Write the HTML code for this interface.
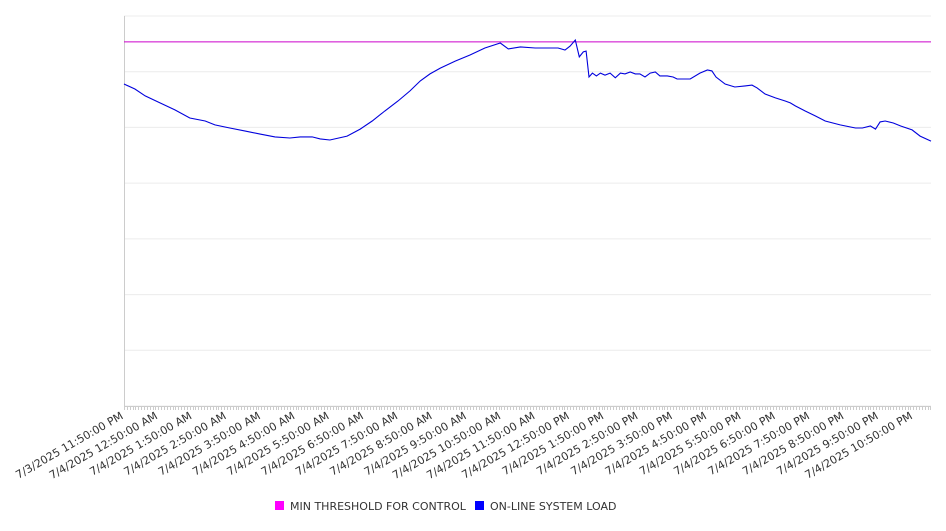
<!DOCTYPE html>
<html><head><meta charset="utf-8"><style>
body{margin:0;background:#fff;font-family:"Liberation Sans","DejaVu Sans",sans-serif}
</style></head><body>
<svg id="chart" width="946" height="526" xmlns="http://www.w3.org/2000/svg" font-family="DejaVu Sans, Liberation Sans, sans-serif"></svg>
<script>
const tickLabels = ["7/3/2025 11:50:00 PM","7/4/2025 12:50:00 AM","7/4/2025 1:50:00 AM","7/4/2025 2:50:00 AM","7/4/2025 3:50:00 AM","7/4/2025 4:50:00 AM","7/4/2025 5:50:00 AM","7/4/2025 6:50:00 AM","7/4/2025 7:50:00 AM","7/4/2025 8:50:00 AM","7/4/2025 9:50:00 AM","7/4/2025 10:50:00 AM","7/4/2025 11:50:00 AM","7/4/2025 12:50:00 PM","7/4/2025 1:50:00 PM","7/4/2025 2:50:00 PM","7/4/2025 3:50:00 PM","7/4/2025 4:50:00 PM","7/4/2025 5:50:00 PM","7/4/2025 6:50:00 PM","7/4/2025 7:50:00 PM","7/4/2025 8:50:00 PM","7/4/2025 9:50:00 PM","7/4/2025 10:50:00 PM"];
const loadMinutes = [0,19,37,63,89,115,142,159,185,212,238,264,290,308,329,343,360,390,413,434,456,479,500,518,535,553,579,605,631,658,672,693,719,742,759,771,780,789,796,803,808,813,819,826,833,841,850,859,868,876,885,894,902,911,920,929,937,950,960,967,990,1007,1020,1028,1035,1051,1068,1086,1098,1107,1121,1139,1156,1165,1174,1191,1209,1226,1252,1279,1291,1305,1314,1322,1331,1345,1358,1378,1392,1411];
const loadValues = [1156,1138,1113,1088,1063,1034,1023,1009,998,987,976,966,962,966,966,959,955,969,994,1023,1059,1095,1131,1167,1192,1213,1238,1260,1285,1303,1282,1289,1285,1285,1285,1278,1292,1314,1253,1271,1274,1181,1195,1185,1195,1188,1195,1178,1195,1192,1199,1192,1192,1181,1195,1199,1185,1185,1181,1174,1174,1195,1206,1203,1181,1156,1145,1149,1152,1142,1120,1106,1095,1088,1077,1059,1041,1023,1009,998,998,1005,994,1020,1023,1016,1005,991,969,951];
const thresholdValue = 1307;
const yGrid = [0,200,400,600,800,1000,1200,1400];

const svg = document.getElementById('chart');
const NS = 'http://www.w3.org/2000/svg';
const L=124,R=931,T=16,B=406, tMax=1411, yMax=1400;
const xs = m => L + (R-L)*m/tMax;
const ys = v => B - (B-T)*v/yMax;
function mk(tag, attrs, parent){const e=document.createElementNS(NS,tag);for(const k in attrs)e.setAttribute(k,attrs[k]);(parent||svg).appendChild(e);return e;}

const grid = mk('g',{});


yGrid.forEach(v=>{const l=mk('line',{x1:L,x2:R,y1:ys(v),y2:ys(v),stroke:'#ececec','stroke-width':1},grid);

});

const yAxis = mk('line',{x1:L+0.5,x2:L+0.5,y1:T,y2:B,stroke:'#ccc'});



const xAxis = mk('g',{});


mk('line',{x1:L,x2:R,y1:B+0.5,y2:B+0.5,stroke:'#ccc'},xAxis);
for(let m=0;m<=tMax;m+=5){const x=Math.round(xs(m))+0.5;mk('line',{x1:x,x2:x,y1:B,y2:B+4,stroke:'#ccc'},xAxis);}
tickLabels.forEach((t,i)=>{const x=xs(i*60);
const tx=mk('text',{x:x,y:B+12,'font-size':11,fill:'#333','text-anchor':'end',transform:`rotate(-30 ${x} ${B+12})`},xAxis);
tx.textContent=t;

});

const th = mk('line',{x1:L,x2:R,y1:ys(thresholdValue),y2:ys(thresholdValue),stroke:'#cc00cc','stroke-width':1});



const pts = loadMinutes.map((m,i)=>xs(m).toFixed(1)+','+ys(loadValues[i]).toFixed(1)).join(' ');
const pl = mk('polyline',{points:pts,fill:'none',stroke:'#0000dd','stroke-width':1.1});



const leg = mk('g',{});


[[275,'#ff00ff','MIN THRESHOLD FOR CONTROL'],[475,'#0000ff','ON-LINE SYSTEM LOAD']].forEach(([x,c,t])=>{
const g=mk('g',{},leg);


mk('rect',{x:x,y:501,width:9,height:9,fill:c},g);
const tx=mk('text',{x:x+15,y:510,'font-size':11,fill:'#333'},g);tx.textContent=t;});
</script>
</body></html>
